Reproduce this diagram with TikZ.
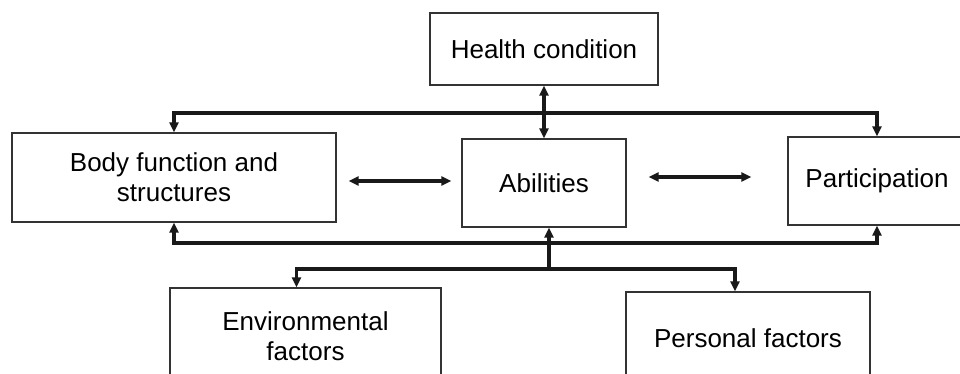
\documentclass[tikz,border=0pt]{standalone}
\usepackage{fontspec}
\setmainfont{Liberation Sans}
\usetikzlibrary{arrows.meta}

\begin{document}
\begin{tikzpicture}[x=1pt,y=-1pt,
  box/.style={draw=black!80, line width=1.3pt, align=center, inner sep=0pt,
    font=\fontsize{26}{30}\selectfont},
  link/.style={line width=3.4pt, black!90, {Triangle[length=10pt,width=9pt]}-{Triangle[length=10pt,width=9pt]}},
  feed/.style={line width=3.4pt, black!90, -{Triangle[length=10pt,width=9pt]}}]

% Fix the picture size
\useasboundingbox (0,0) rectangle (960,374);

% Boxes
\node[box, minimum width=228pt, minimum height=72pt] (health) at (544,49) {Health condition};
\node[box, minimum width=324pt, minimum height=89pt] (body) at (174,177.5) {Body function and\\structures};
\node[box, minimum width=164pt, minimum height=88pt] (abil) at (544,183) {Abilities};
\node[box, minimum width=178pt, minimum height=88pt] (part) at (877,181) {Participation};
\node[box, minimum width=271pt, minimum height=96pt] (env) at (305.5,336) {Environmental\\factors};
\node[box, minimum width=244pt, minimum height=92pt] (pers) at (748,338) {Personal factors};

% Bus lines
\coordinate (tbus) at (0,113);
\coordinate (bbus) at (0,243);
\coordinate (lbus) at (549,269);

% Health condition to abilities
\draw[link] (health) -- (abil);

% Upper bus
\draw[link] (body.north) -- (body.north |- tbus) -- (part.north |- tbus) -- (part.north);

% Lower bus
\draw[link] (body.south) -- (body.south |- bbus) -- (part.south |- bbus) -- (part.south);

% Context factors
\draw[feed] (lbus) -- (lbus |- abil.south);
\draw[link] ([xshift=-9pt]env.north) -- ([xshift=-9pt]env.north |- lbus) -- ([xshift=-13pt]pers.north |- lbus) -- ([xshift=-13pt]pers.north);

% Side arrows
\draw[link] ([xshift=12pt,yshift=-3.5pt]body.east) -- ([xshift=-10pt,yshift=-3.5pt]body.east -| abil.west);
\draw[link] ([xshift=22pt,yshift=4pt]part.west -| abil.east) -- ([xshift=-36pt,yshift=4pt]part.west);

\end{tikzpicture}
\end{document}
